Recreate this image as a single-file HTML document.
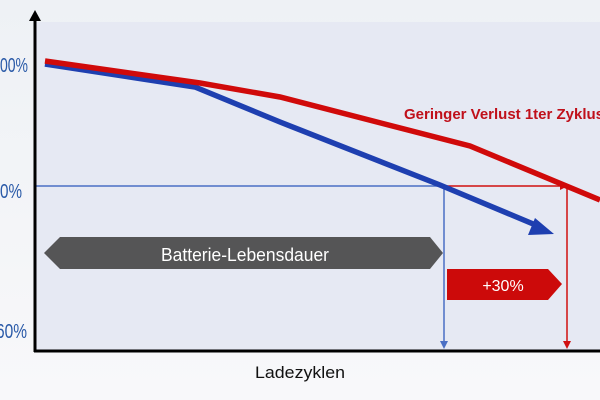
<!DOCTYPE html>
<html><head><meta charset="utf-8"><style>
html,body{margin:0;padding:0;width:600px;height:400px;overflow:hidden;background:#f4f5f8}
</style></head><body>
<svg width="600" height="400" viewBox="0 0 600 400" xmlns="http://www.w3.org/2000/svg" font-family="Liberation Sans, sans-serif">
<defs>
<linearGradient id="bg" x1="0" y1="0" x2="0" y2="1"><stop offset="0" stop-color="#eef1f5"/><stop offset="1" stop-color="#f8f8fa"/></linearGradient>
</defs>
<rect width="600" height="400" fill="url(#bg)"/>
<rect x="36" y="22" width="564" height="328" fill="#e6e9f3"/>
<line x1="36" y1="186" x2="444" y2="186" stroke="#4a6fc4" stroke-width="1.5"/>
<line x1="444" y1="186" x2="562" y2="186" stroke="#d01010" stroke-width="1.5"/>
<polygon points="568,186 560,182 560,190" fill="#d01010"/>
<line x1="444" y1="186" x2="444" y2="342" stroke="#4a6fc4" stroke-width="1.5"/>
<polygon points="444,349 440,341 448,341" fill="#4a6fc4"/>
<line x1="567" y1="186" x2="567" y2="342" stroke="#d01010" stroke-width="1.5"/>
<polygon points="567,349 563,341 571,341" fill="#d01010"/>
<polyline points="45,64 195,87 280,122 440,185 538,226" fill="none" stroke="#1e3fb0" stroke-width="5.5"/>
<polygon points="554,234 535,218 528,235" fill="#1e3fb0"/>
<polyline points="45,61 200,83 280,97 470,146 600,200" fill="none" stroke="#d00a0a" stroke-width="5.5"/>
<line x1="35" y1="18" x2="35" y2="352" stroke="#000" stroke-width="3"/>
<polygon points="35,10 29,21 41,21" fill="#000"/>
<line x1="34" y1="351" x2="600" y2="351" stroke="#000" stroke-width="3"/>
<polygon points="44,253 60,237 430,237 443,253 430,269 60,269" fill="#555556"/>
<text x="245" y="261" font-size="18" fill="#fff" text-anchor="middle" textLength="168" lengthAdjust="spacingAndGlyphs">Batterie-Lebensdauer</text>
<polygon points="447,269 548,269 562,284 548,300 447,300" fill="#cc0a0a"/>
<text x="503" y="291" font-size="16" fill="#fff" text-anchor="middle">+30%</text>
<text x="0" y="72" font-size="20" fill="#2a5aa8" textLength="28" lengthAdjust="spacingAndGlyphs">00%</text>
<text x="0" y="198" font-size="20" fill="#2a5aa8" textLength="22" lengthAdjust="spacingAndGlyphs">0%</text>
<text x="-4" y="338" font-size="20" fill="#2a5aa8" textLength="31" lengthAdjust="spacingAndGlyphs">60%</text>
<text x="404" y="119" font-size="15" font-weight="bold" fill="#c0101a" textLength="200" lengthAdjust="spacingAndGlyphs">Geringer Verlust 1ter Zyklus</text>
<text x="300" y="378" font-size="17" fill="#111" text-anchor="middle" textLength="90" lengthAdjust="spacingAndGlyphs">Ladezyklen</text>
</svg>
</body></html>
